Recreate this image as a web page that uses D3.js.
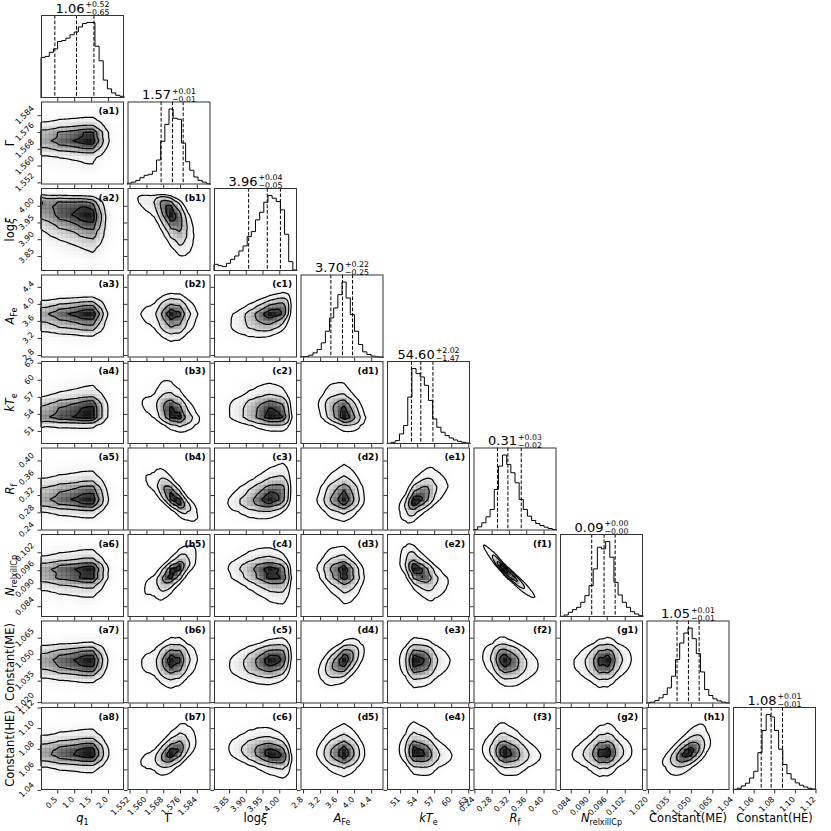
<!DOCTYPE html>
<html><head><meta charset="utf-8">
<script src="https://cdn.jsdelivr.net/npm/d3@7"></script>
<style>
body{margin:0;background:#fff}
svg{display:block}
text{font-family:"DejaVu Sans",sans-serif;fill:#000}
</style></head>
<body><svg id="c" width="831" height="831"></svg>
<script>
// ---------------- data ----------------
const paramNames = ["q1","Gamma","logxi","AFe","kTe","Rf","NrelxillCp","ConstME","ConstHE"];
const ranges = [[0.02,2.47],[1.551,1.5905],[3.805,4.053],[2.74,4.69],[48.7,63.3],[0.238,0.430],[0.0804,0.1081],[1.019,1.077],[1.04,1.1205]];
const tickValues = [
  [0.5,1.0,1.5,2.0],
  [1.552,1.560,1.568,1.576,1.584],
  [3.85,3.90,3.95,4.00],
  [2.8,3.2,3.6,4.0,4.4],
  [51,54,57,60,63],
  [0.24,0.28,0.32,0.36,0.40],
  [0.084,0.090,0.096,0.102],
  [1.020,1.035,1.050,1.065],
  [1.04,1.06,1.08,1.10,1.12]
];
const tickFormats = [".1f",".3f",".2f",".1f",".0f",".2f",".3f",".3f",".2f"];
// 1D posterior histograms (20 bins across each range)
const histQ1   = [120,123,135,145,167,170,177,187,195,210,220,223,223,153,110,53,27,15,8,5];
const histGam  = [4,7,12,20,27,30,39,72,127,177,222,195,192,122,67,42,22,12,7,2];
const histXi   = [20,16,13,23,35,45,60,75,103,118,153,176,206,226,218,208,183,110,28,3];
const histAFe  = [2,3,7,14,24,44,79,119,149,189,227,179,129,79,39,17,9,4,2,1];
const histKTe  = [2,5,10,30,55,140,225,210,200,175,130,75,50,35,25,18,12,8,5,3];
const histRf   = [3,11,23,41,63,123,193,226,198,173,143,93,63,43,30,21,15,10,6,3];
const histN    = [2,6,14,22,29,44,64,94,144,209,204,226,179,104,66,44,29,16,9,4];
const histCME  = [2,4,9,17,27,47,82,132,182,212,227,195,150,95,42,24,14,8,4,2];
const histCHE  = [2,5,12,20,35,55,110,175,222,215,175,120,75,48,32,21,14,9,5,3];
const hists = [histQ1,histGam,histXi,histAFe,histKTe,histRf,histN,histCME,histCHE];
// pairwise correlations (row j, column i<j)
const corr = [
  [],
  [0.0],
  [-0.2,-0.6],
  [0.0,0.0,0.4],
  [0.1,-0.4,-0.1,-0.3],
  [0.0,-0.8,0.3,0.05,0.6],
  [0.0,0.75,-0.2,-0.2,-0.6,-0.975],
  [0.0,0.1,0.2,0.5,0.0,-0.2,0.1],
  [0.0,0.6,-0.3,0.0,-0.2,-0.2,0.1,0.6]
];
const titleMedian = ["1.06","1.57","3.96","3.70","54.60","0.31","0.09","1.05","1.08"];
const titlePlus   = ["0.52","0.01","0.04","0.22","2.02","0.03","0.00","0.01","0.01"];
const titleMinus  = ["0.65","0.01","0.05","0.25","1.47","0.02","0.00","0.01","0.01"];
const axisLabels = [
  [{t:"q",it:1},{t:"1",sub:1}],
  [{t:"Γ"}],
  [{t:"log"},{t:"ξ",it:1}],
  [{t:"A",it:1},{t:"Fe",sub:1}],
  [{t:"kT",it:1},{t:"e",sub:1}],
  [{t:"R",it:1},{t:"f",sub:1}],
  [{t:"N",it:1},{t:"relxillCp",sub:1}],
  [{t:"Constant(ME)"}],
  [{t:"Constant(HE)"}]
];
const sigmaLevels = [0.5,1.0,1.5,2.0];

// ---------------- layout ----------------
const X0=41, Y0=15, STEP=86.5, SZ=83, K=9, NS=60, NB=20;
const svg = d3.select("#c");

function probit(p){
  const a=[-3.969683028665376e+01,2.209460984245205e+02,-2.759285104469687e+02,1.383577518672690e+02,-3.066479806614716e+01,2.506628277459239e+00];
  const b=[-5.447609879822406e+01,1.615858368580409e+02,-1.556989798598866e+02,6.680131188771972e+01,-1.328068155288572e+01];
  const c=[-7.784894002430293e-03,-3.223964580411365e-01,-2.400758277161838e+00,-2.549732539343734e+00,4.374664141464968e+00,2.938163982698783e+00];
  const d=[7.784695709041462e-03,3.224671290700398e-01,2.445134137142996e+00,3.754408661907416e+00];
  const pl=0.02425;
  if(p<pl){const q=Math.sqrt(-2*Math.log(p));return (((((c[0]*q+c[1])*q+c[2])*q+c[3])*q+c[4])*q+c[5])/((((d[0]*q+d[1])*q+d[2])*q+d[3])*q+1);}
  if(p>1-pl){const q=Math.sqrt(-2*Math.log(1-p));return -(((((c[0]*q+c[1])*q+c[2])*q+c[3])*q+c[4])*q+c[5])/((((d[0]*q+d[1])*q+d[2])*q+d[3])*q+1);}
  const q=p-0.5,r=q*q;return (((((a[0]*r+a[1])*r+a[2])*r+a[3])*r+a[4])*r+a[5])*q/(((((b[0]*r+b[1])*r+b[2])*r+b[3])*r+b[4])*r+1);
}
// fine-grid marginal from histogram
function marginal(h){
  const nb=h.length, f=[];
  for(let s=0;s<NS;s++){
    const t=(s+0.5)/NS*nb-0.5; let v;
    if(t<=0) v=h[0]; else if(t>=nb-1) v=h[nb-1];
    else {const a=Math.floor(t); v=h[a]+(h[a+1]-h[a])*(t-a);}
    f.push(Math.max(v,1e-6));
  }
  const tot=d3.sum(f); let cum=0; const z=[];
  f.forEach(v=>{const u=(cum+v/2)/tot; cum+=v; z.push(probit(Math.min(Math.max(u,1e-6),1-1e-6)));});
  return {f:f.map(v=>v/tot), z};
}
const margs = hists.map(marginal);
function quantile(h,lo,hi,p){
  const tot=d3.sum(h), w=(hi-lo)/h.length; let c=0;
  for(let k=0;k<h.length;k++){ if(c+h[k]>=p*tot) return lo+w*(k+(p*tot-c)/h[k]); c+=h[k]; }
  return hi;
}
function rotLabel(v,fmt,ax,ay,mode){
  const t=svg.append("text").attr("font-size",8).attr("text-anchor","middle")
    .attr("dominant-baseline","central").text(d3.format(fmt)(v));
  const L=t.node().getComputedTextLength(), h=8*0.75, half=(L+h)*0.3536;
  const cx=ax-half, cy=(mode==='x')?ay+half:ay;
  t.attr("transform",`translate(${cx},${cy}) rotate(-45)`);
}
function richLabel(sel,segs,fs){
  let shifted=false;
  segs.forEach(s=>{
    const ts=sel.append("tspan").text(s.t);
    if(s.it) ts.attr("font-style","italic");
    if(s.sub){ ts.attr("font-size",fs*0.7).attr("dy",fs*0.25); shifted=true; }
    else if(shifted){ ts.attr("dy",-fs*0.25); shifted=false; }
  });
}

const gPanels = svg.append("g");
for(let j=0;j<K;j++){
  for(let i=0;i<=j;i++){
    const px=X0+i*STEP, py=Y0+j*STEP;
    const g=gPanels.append("g");
    const x=d3.scaleLinear().domain(ranges[i]).range([px,px+SZ]);
    if(i===j){
      const h=hists[i], hmax=d3.max(h);
      const y=d3.scaleLinear().domain([0,hmax*1.1]).range([py+SZ,py]);
      const edges=d3.range(h.length+1).map(k=>ranges[i][0]+(ranges[i][1]-ranges[i][0])*k/h.length);
      const pts=[[edges[0],0]];
      h.forEach((v,k)=>{pts.push([edges[k],v]);pts.push([edges[k+1],v]);});
      pts.push([edges[h.length],0]);
      g.append("path").attr("d",d3.line().x(d=>x(d[0])).y(d=>y(d[1]))(pts))
        .attr("fill","none").attr("stroke","#000").attr("stroke-width",1);
      [0.16,0.5,0.84].forEach(p=>{
        const q=quantile(h,ranges[i][0],ranges[i][1],p);
        g.append("line").attr("x1",x(q)).attr("x2",x(q)).attr("y1",py).attr("y2",py+SZ)
          .attr("stroke","#000").attr("stroke-width",1).attr("stroke-dasharray","3.7,1.8");
      });
      // title
      const cx=px+SZ/2;
      const tg=svg.append("g");
      const m=tg.append("text").attr("font-size",13).attr("y",py-2.5).text(titleMedian[i]);
      const sp=tg.append("text").attr("font-size",7.8).attr("y",py-7.7).text("+"+titlePlus[i]);
      const sb=tg.append("text").attr("font-size",7.8).attr("y",py+0.3).text("\u2212"+titleMinus[i]);
      const mw=m.node().getComputedTextLength(), sw=Math.max(sp.node().getComputedTextLength(),sb.node().getComputedTextLength());
      const x0=cx-(mw+sw+1)/2;
      m.attr("x",x0); sp.attr("x",x0+mw+1); sb.attr("x",x0+mw+1);
    } else {
      const y=d3.scaleLinear().domain(ranges[j]).range([py+SZ,py]);
      const mx=margs[i], my=margs[j], r=corr[j][i];
      const vals=new Array(NS*NS);
      const den=1-r*r;
      for(let t=0;t<NS;t++) for(let s=0;s<NS;s++){
        const z1=mx.z[s], z2=my.z[t];
        const c=Math.exp(-(r*r*(z1*z1+z2*z2)-2*r*z1*z2)/(2*den))/Math.sqrt(den);
        vals[s+(NS-1-t)*NS]=mx.f[s]*my.f[t]*c;
      }
      const tot=d3.sum(vals);
      // binned density image
      const f=NS/NB, H=[];
      for(let b=0;b<NB;b++) for(let a=0;a<NB;a++){
        let sum=0;
        for(let dy=0;dy<f;dy++) for(let dx=0;dx<f;dx++) sum+=vals[(a*f+dx)+(b*f+dy)*NS];
        H.push({a,b,v:sum});
      }
      const Hmax=d3.max(H,d=>d.v), cw=SZ/NB;
      g.selectAll("rect.cell").data(H.filter(d=>d.v/Hmax>0.01)).join("rect")
        .attr("x",d=>px+d.a*cw).attr("y",d=>py+d.b*cw).attr("width",cw+0.3).attr("height",cw+0.3)
        .attr("fill","#000").attr("fill-opacity",d=>Math.pow(d.v/Hmax,1.6)*0.9);
      // contour levels enclosing given mass fractions
      const sorted=vals.slice().sort((p,q)=>q-p);
      const cum=[]; let acc=0; sorted.forEach(v=>{acc+=v;cum.push(acc/tot);});
      const levels=sigmaLevels.map(sg=>{
        const mass=1-Math.exp(-0.5*sg*sg);
        let k=cum.findIndex(c=>c>=mass); return sorted[Math.max(k,0)];
      }).sort((p,q)=>p-q);
      const cont=d3.contours().size([NS,NS]).thresholds(levels)(vals);
      const proj=d3.geoTransform({point:function(gx,gy){this.stream.point(px+gx/NS*SZ, py+gy/NS*SZ);}});
      const path=d3.geoPath(proj);
      g.selectAll("path.ct").data(cont).join("path").attr("d",path)
        .attr("fill","none").attr("stroke","#000").attr("stroke-width",1.2).attr("stroke-linejoin","round");
      // panel letter
      g.append("text").attr("x",px+SZ-5).attr("y",py+12.5).attr("text-anchor","end")
        .attr("font-size",9).attr("font-weight","bold").text("("+String.fromCharCode(97+i)+(j-i)+")");
      // left ticks
      const ay=g.append("g").attr("transform",`translate(${px},0)`)
        .call(d3.axisLeft(y).tickValues(tickValues[j]).tickSize(3.5).tickFormat(""));
      ay.select(".domain").remove(); ay.selectAll("line").attr("stroke","#333");
      if(i===0){
        tickValues[j].forEach(v=>rotLabel(v,tickFormats[j],px-6,y(v),'y'));
      }
    }
    // frame
    g.append("rect").attr("x",px+0.5).attr("y",py+0.5).attr("width",SZ-1).attr("height",SZ-1)
      .attr("fill","none").attr("stroke","#333").attr("stroke-width",1);
    // bottom ticks
    const ax=g.append("g").attr("transform",`translate(0,${py+SZ})`)
      .call(d3.axisBottom(x).tickValues(tickValues[i]).tickSize(3.5).tickFormat(""));
    ax.select(".domain").remove(); ax.selectAll("line").attr("stroke","#333");
    if(j===K-1){
      tickValues[i].forEach(v=>rotLabel(v,tickFormats[i],x(v)+1,py+SZ+6,'x'));
    }
  }
}

// x axis labels
for(let i=0;i<K;i++){
  const t=svg.append("text").attr("x",X0+i*STEP+SZ/2).attr("y",822).attr("text-anchor","middle").attr("font-size",11.5);
  richLabel(t,axisLabels[i],11.5);
}
// y axis labels
for(let j=1;j<K;j++){
  const cy=Y0+j*STEP+SZ/2;
  const t=svg.append("text").attr("text-anchor","middle").attr("font-size",11.5)
    .attr("transform",`translate(14,${cy}) rotate(-90)`);
  richLabel(t,axisLabels[j],11.5);
}
</script></body></html>
